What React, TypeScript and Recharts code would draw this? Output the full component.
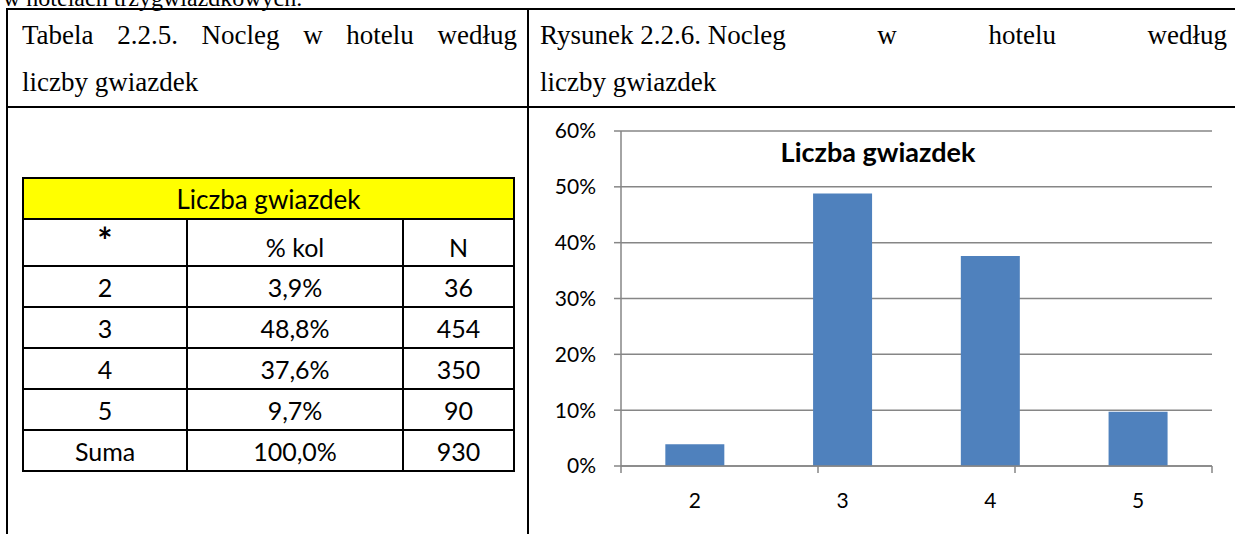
import { Bar, BarChart, CartesianGrid, XAxis, YAxis } from 'recharts';

const STARS = ['2', '3', '4', '5'];
const PCT = [3.9, 48.8, 37.6, 9.7];
const COUNTS = [36, 454, 350, 90];
const TOTAL_PCT = 100.0;
const TOTAL_N = 930;
const Y_TICKS = [0, 10, 20, 30, 40, 50, 60];
const EDGE_TICKS = [0, 1, 2, 3, 4];

const data = STARS.map((s, i) => ({ star: s, pct: PCT[i] }));

const fmtPct = (v: number) => v.toFixed(1).replace('.', ',') + '%';

const GREY = '#868686';
const BLUE = '#4F81BD';
const SANS = 'Lato, "Open Sans", sans-serif';
const SERIF = '"Liberation Serif", "Times New Roman", serif';

const cell: React.CSSProperties = {
  border: '2px solid #000',
  textAlign: 'center',
  padding: 0,
  fontFamily: SANS,
  fontSize: 25,
  color: '#000',
};

function JustLine({ words }: { words: string[] }) {
  return (
    <div style={{ display: 'flex', justifyContent: 'space-between', whiteSpace: 'nowrap' }}>
      {words.map((w) => (
        <span key={w}>{w}</span>
      ))}
    </div>
  );
}

function CatTick(props: any) {
  const { x, y, payload } = props;
  return (
    <text x={x} y={y} dy="0.71em" textAnchor="middle" fill="#000" fontSize={21} fontFamily={SANS}>
      {payload.value}
    </text>
  );
}

export default function App() {
  const rows = STARS.map((s, i) => [s, fmtPct(PCT[i]), String(COUNTS[i])]);
  rows.push(['Suma', fmtPct(TOTAL_PCT), String(TOTAL_N)]);

  return (
    <div
      style={{
        position: 'absolute',
        left: 0,
        top: 0,
        width: 1235,
        height: 534,
        overflow: 'hidden',
        background: '#fff',
      }}
    >
      {/* clipped line of the preceding paragraph */}
      <div
        style={{
          position: 'absolute',
          left: 3,
          top: -15,
          fontFamily: SERIF,
          fontSize: 24,
          whiteSpace: 'nowrap',
        }}
      >
        w hotelach trzygwiazdkowych.
      </div>

      {/* outer frame */}
      <div style={{ position: 'absolute', left: 6, top: 8, width: 1300, height: 2, background: '#000' }} />
      <div style={{ position: 'absolute', left: 6, top: 8, width: 2, height: 600, background: '#000' }} />
      <div style={{ position: 'absolute', left: 6, top: 106, width: 1300, height: 2, background: '#000' }} />
      <div style={{ position: 'absolute', left: 527, top: 8, width: 2, height: 600, background: '#000' }} />

      {/* captions */}
      <div
        style={{
          position: 'absolute',
          left: 22,
          top: 12,
          width: 495,
          fontFamily: SERIF,
          fontSize: 27,
          lineHeight: '47px',
        }}
      >
        <JustLine words={['Tabela', '2.2.5.', 'Nocleg', 'w', 'hotelu', 'według']} />
        <div>liczby gwiazdek</div>
      </div>
      <div
        style={{
          position: 'absolute',
          left: 540,
          top: 12,
          width: 687,
          fontFamily: SERIF,
          fontSize: 27,
          lineHeight: '47px',
        }}
      >
        <JustLine words={['Rysunek 2.2.6. Nocleg', 'w', 'hotelu', 'według']} />
        <div>liczby gwiazdek</div>
      </div>

      {/* table */}
      <table
        style={{
          position: 'absolute',
          left: 22,
          top: 177,
          width: 491,
          borderCollapse: 'collapse',
          tableLayout: 'fixed',
        }}
      >
        <colgroup>
          <col style={{ width: 164 }} />
          <col style={{ width: 216 }} />
          <col style={{ width: 111 }} />
        </colgroup>
        <tbody>
          <tr style={{ height: 41 }}>
            <td colSpan={3} style={{ ...cell, background: '#FFFF00', fontSize: 26 }}>
              Liczba gwiazdek
            </td>
          </tr>
          <tr style={{ height: 47 }}>
            <td style={{ ...cell, verticalAlign: 'top', fontWeight: 700, fontSize: 36, lineHeight: '40px' }}>*</td>
            <td style={{ ...cell, verticalAlign: 'bottom', lineHeight: '36px' }}>% kol</td>
            <td style={{ ...cell, verticalAlign: 'bottom', lineHeight: '36px' }}>N</td>
          </tr>
          {rows.map((r) => (
            <tr key={r[0]} style={{ height: 41 }}>
              {r.map((v, j) => (
                <td key={j} style={cell}>
                  {v}
                </td>
              ))}
            </tr>
          ))}
        </tbody>
      </table>

      {/* chart */}
      <div style={{ position: 'absolute', left: 528, top: 108 }}>
        <BarChart
          width={707}
          height={426}
          data={data}
          margin={{ top: 23, right: 23, left: 0, bottom: 20 }}
          barCategoryGap="30%"
        >
          <CartesianGrid vertical={false} stroke={GREY} strokeWidth={1.5} />
          <XAxis
            xAxisId="b_cat"
            dataKey="star"
            height={40}
            axisLine={false}
            tickLine={false}
            tickSize={0}
            tickMargin={19}
            tick={<CatTick />}
          />
          <XAxis
            xAxisId="a_edge"
            type="number"
            domain={[0, 4]}
            allowDataOverflow
            ticks={EDGE_TICKS}
            height={8}
            tickSize={7}
            stroke={GREY}
            strokeWidth={1.5}
            tick={() => <g />}
          />
          <YAxis
            width={93}
            domain={[0, 60]}
            ticks={Y_TICKS}
            tickFormatter={(v: number) => `${v}%`}
            tickSize={7}
            tickMargin={18}
            stroke={GREY}
            strokeWidth={1.5}
            tick={{ fill: '#000', fontSize: 21, fontFamily: SANS }}
          />
          <Bar dataKey="pct" xAxisId="b_cat" fill={BLUE} isAnimationActive={false} />
        </BarChart>
      </div>

      <div
        style={{
          position: 'absolute',
          left: 678,
          top: 136,
          width: 400,
          textAlign: 'center',
          fontFamily: SANS,
          fontWeight: 700,
          fontSize: 27,
          lineHeight: '32px',
        }}
      >
        Liczba gwiazdek
      </div>
    </div>
  );
}
